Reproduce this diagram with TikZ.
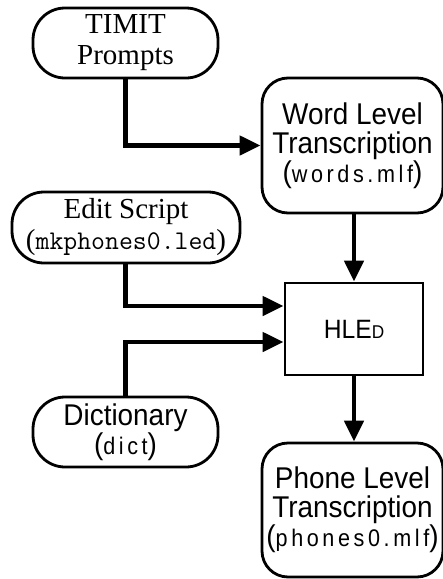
\documentclass[tikz,border=0pt]{standalone}
\usepackage{fontspec}
\setmainfont{Liberation Serif}
\newfontfamily\hsans[FakeStretch=0.93]{Liberation Sans}
\newfontfamily\hcode[FakeStretch=0.9,LetterSpace=15]{Liberation Sans}
\newfontfamily\hmono{Latin Modern Mono}
\usetikzlibrary{arrows.meta,calc}
\begin{document}
\begin{tikzpicture}[x=1pt,y=-1pt,
  stadium/.style={draw,line width=2.8pt,rounded corners=32pt,inner sep=0pt,align=center},
  filebox/.style={draw,line width=2.8pt,rounded corners=26pt,inner sep=0pt,align=center},
  procbox/.style={draw,line width=2.8pt,inner sep=0pt,align=center},
  conn/.style={line width=4.5pt,-{Triangle[length=21pt,width=19pt]}},
  serifbig/.style={font=\fontsize{29}{31}\selectfont},
  sansbig/.style={font=\hsans\fontsize{30}{29}\selectfont},
]
\useasboundingbox (0,0) rectangle (443,579);

\node[stadium,serifbig,minimum width=185pt,minimum height=70pt] (timit) at (125.5,43) {TIMIT\\Prompts};

\node[filebox,sansbig,minimum width=181pt,minimum height=135pt] (word) at (352.5,145.5)
  {Word Level\\Transcription\\(\hcode\fontsize{24}{29}\selectfont words.mlf\hsans\fontsize{30}{29}\selectfont)};

\node[stadium,serifbig,minimum width=228pt,minimum height=71pt] (edit) at (126,227.5)
  {Edit Script\\(\hmono\fontsize{27}{31}\selectfont mkphones0.led\rmfamily\fontsize{29}{31}\selectfont)};

\node[procbox,minimum width=138pt,minimum height=92pt,font=\hsans\fontsize{26.5}{26.5}\selectfont] (hled) at (354,329)
  {HLE{\fontsize{18.5}{18.5}\selectfont D}};

\node[stadium,sansbig,minimum width=185pt,minimum height=70pt] (dict) at (125.5,432)
  {Dictionary\\(\hcode\fontsize{24}{29}\selectfont dict\hsans\fontsize{30}{29}\selectfont)};

\node[filebox,sansbig,minimum width=181pt,minimum height=134pt] (phone) at (352.5,510)
  {Phone Level\\Transcription\\(\hcode\fontsize{24}{29}\selectfont phones0.mlf\hsans\fontsize{30}{29}\selectfont)};

\draw[conn] (timit.south) |- (word.west);
\draw[conn] (word.south -| hled.north) -- (hled.north);
\draw[conn] (edit.south -| timit.south) |- ($(hled.west)+(0,-23)$);
\draw[conn] (dict.north) |- ($(hled.west)+(0,13)$);
\draw[conn] (hled.south) -- (phone.north -| hled.south);
\end{tikzpicture}
\end{document}
